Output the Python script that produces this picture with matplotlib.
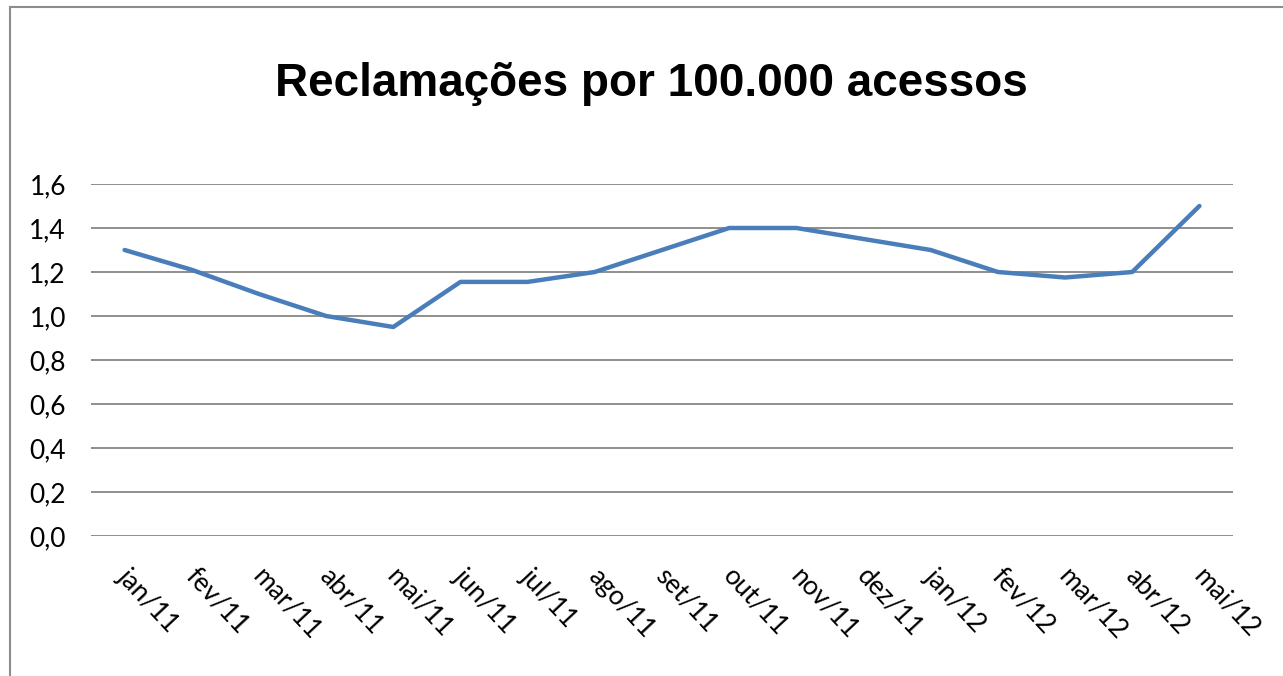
import matplotlib.pyplot as plt
import matplotlib.transforms as mtransforms
from matplotlib.patches import Rectangle

meses = ['jan/11', 'fev/11', 'mar/11', 'abr/11', 'mai/11', 'jun/11', 'jul/11',
         'ago/11', 'set/11', 'out/11', 'nov/11', 'dez/11', 'jan/12', 'fev/12',
         'mar/12', 'abr/12', 'mai/12']
reclamacoes = [1.30, 1.21, 1.10, 1.00, 0.95, 1.155, 1.155, 1.20, 1.30, 1.40,
               1.40, 1.35, 1.30, 1.20, 1.175, 1.20, 1.50]
y_ticks = [0.0, 0.2, 0.4, 0.6, 0.8, 1.0, 1.2, 1.4, 1.6]

fig = plt.figure(figsize=(12.83, 6.76), dpi=100)

# moldura do grafico
fig.patches.append(Rectangle((10 / 1283, -0.01), 1.0, 1 - 7 / 676 + 0.01,
                             transform=fig.transFigure, fill=False,
                             edgecolor='#8c8c8c', linewidth=1.5))

ax = fig.add_axes([91 / 1283, 1 - 536 / 676, (1233 - 91) / 1283, 352 / 676])
x = list(range(len(meses)))
ax.plot(x, reclamacoes, color='#4a7ebb', linewidth=3.2, solid_capstyle='round')

ax.set_xlim(-0.5, len(meses) - 0.5)
ax.set_ylim(0, 1.6)
ax.set_yticks(y_ticks)
ax.set_yticklabels([f'{v:.1f}'.replace('.', ',') for v in y_ticks],
                   fontsize=19, family='Lato')
ax.yaxis.grid(True, color='#868686', linewidth=1.3)
ax.set_axisbelow(True)
ax.set_xticks(x)
ax.set_xticklabels(meses, rotation=-47, ha='left', va='top',
                   rotation_mode='anchor', fontsize=19, family='Lato')
ax.tick_params(axis='x', length=0, pad=20)
ax.tick_params(axis='y', length=0, pad=18)
# empurra os rotulos um pouco para a direita
desloc = mtransforms.ScaledTranslation(7 / 100, 0, fig.dpi_scale_trans)
for lbl in ax.get_xticklabels():
    lbl.set_transform(lbl.get_transform() + desloc)
for s in ax.spines.values():
    s.set_visible(False)

fig.text(651 / 1283, 1 - 84 / 676, 'Reclamações por 100.000 acessos',
         ha='center', va='center', fontsize=33, fontweight='bold',
         family='Liberation Sans')

fig.savefig('out.png', dpi=100)
